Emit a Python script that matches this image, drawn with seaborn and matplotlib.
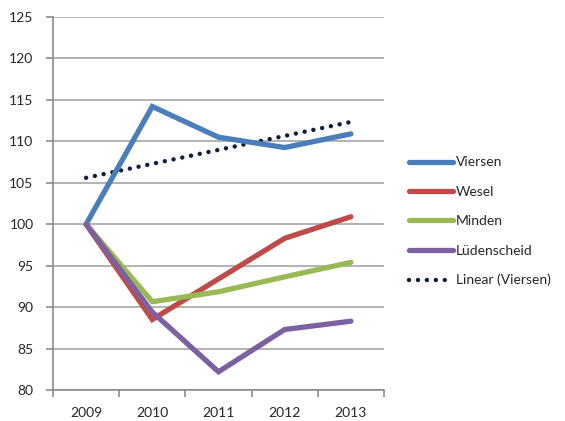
import numpy as np
import pandas as pd
import matplotlib
matplotlib.use("Agg")
import matplotlib.pyplot as plt
import seaborn as sns
from matplotlib.lines import Line2D

# ── Data ───────────────────────────────────────────────
years = ["2009", "2010", "2011", "2012", "2013"]
viersen = [100, 114.2, 110.5, 109.25, 110.9]
wesel = [100, 88.5, 93.4, 98.3, 100.9]
minden = [100, 90.65, 91.85, 93.65, 95.4]
luedenscheid = [100, 89.4, 82.2, 87.3, 88.3]

series = {"Viersen": viersen, "Wesel": wesel, "Minden": minden, "Lüdenscheid": luedenscheid}
colors = {"Viersen": "#4A7EBB", "Wesel": "#BE4B48", "Minden": "#98B954", "Lüdenscheid": "#7D60A0"}
TREND_COLOR = "#0F1E3C"

# ── Setup ──────────────────────────────────────────────
sns.set_theme(style="white")
plt.rcParams['font.family'] = ['Lato', 'DejaVu Sans']

rows = []
for name, vals in series.items():
    for i, v in enumerate(vals):
        rows.append({"idx": i, "value": v, "city": name})
df = pd.DataFrame(rows)

fig = plt.figure(figsize=(5.65, 4.21), dpi=100)
ax = fig.add_axes([53 / 565, 31 / 421, 331 / 565, 373 / 421])

sns.lineplot(data=df, x="idx", y="value", hue="city", palette=colors,
             linewidth=3.8, ax=ax, legend=False, solid_capstyle="round",
             solid_joinstyle="miter")

# linear trendline for Viersen
x = np.arange(len(years))
slope, icpt = np.polyfit(x, viersen, 1)
trend = slope * x + icpt
ax.plot(x, trend, color=TREND_COLOR, linewidth=3.2, linestyle=(0, (0.01, 2.0)),
        dash_capstyle="round", zorder=1)

ax.set_xlim(-0.5, 4.5)
ax.set_ylim(80, 125)
ax.set_yticks(range(80, 126, 5))
ax.set_xticks(x)
ax.set_xticklabels(years)
ax.set_xticks(np.arange(-0.5, 4.6, 1), minor=True)
ax.yaxis.grid(True, color="#A6A6A6", linewidth=1.2)
ax.set_axisbelow(True)
ax.set_xlabel("")
ax.set_ylabel("")

for s in ["top", "right"]:
    ax.spines[s].set_visible(False)
for s in ["left", "bottom"]:
    ax.spines[s].set_color("#8C8C8C")
    ax.spines[s].set_linewidth(1.2)

ax.tick_params(axis="y", which="major", length=5, width=1.2, color="#8C8C8C",
               labelsize=10, pad=9, left=True)
ax.tick_params(axis="x", which="major", length=0, labelsize=10, pad=12)
ax.tick_params(axis="x", which="minor", length=5, width=1.2, color="#8C8C8C",
               bottom=True)

# legend
handles = [Line2D([], [], color=colors[n], linewidth=3.8, solid_capstyle="round")
           for n in series]
handles.append(Line2D([], [], color=TREND_COLOR, linewidth=3.2,
                      linestyle=(0, (0.01, 2.0)), dash_capstyle="round"))
labels = list(series) + ["Linear (Viersen)"]
fig.legend(handles, labels, loc="center left", bbox_to_anchor=(396 / 565, 0.474),
           frameon=False, fontsize=10, handlelength=3.2, handletextpad=0.2,
           labelspacing=1.25)

fig.savefig("out.png", dpi=100)
plt.close()
